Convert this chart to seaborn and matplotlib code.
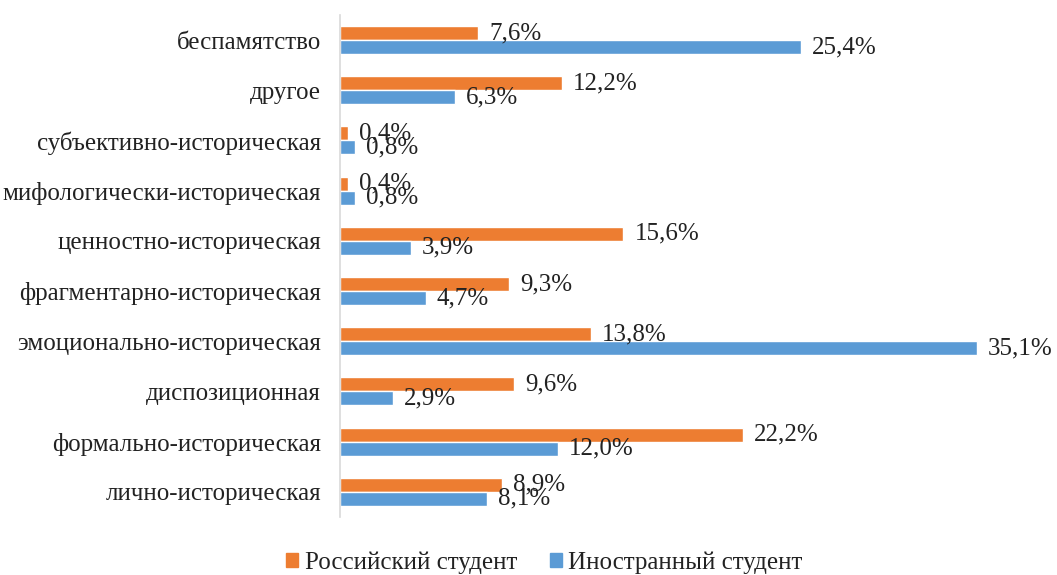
import numpy as np
import pandas as pd
import matplotlib
matplotlib.use("Agg")
import matplotlib.pyplot as plt
import seaborn as sns

# категории сверху вниз
категории = ["беспамятство", "другое", "субъективно-историческая",
             "мифологически-историческая", "ценностно-историческая",
             "фрагментарно-историческая", "эмоционально-историческая",
             "диспозиционная", "формально-историческая", "лично-историческая"]
российский = [7.6, 12.2, 0.4, 0.4, 15.6, 9.3, 13.8, 9.6, 22.2, 8.9]
иностранный = [25.4, 6.3, 0.8, 0.8, 3.9, 4.7, 35.1, 2.9, 12.0, 8.1]
группы = ["Российский студент", "Иностранный студент"]
цвета = ["#ED7D31", "#5B9BD5"]

df = pd.DataFrame({
    "категория": категории * 2,
    "значение": российский + иностранный,
    "группа": [группы[0]] * len(категории) + [группы[1]] * len(категории),
})

sns.set_theme(style="white")
plt.rcParams["font.family"] = ["Liberation Serif", "DejaVu Serif"]

fig = plt.figure(figsize=(10.57, 5.75), dpi=100)
ax = fig.add_axes([0.322, 0.101, 0.652, 0.873])

sns.barplot(data=df, x="значение", y="категория", hue="группа",
            order=категории, hue_order=группы, palette=цвета,
            orient="h", width=0.56, saturation=1, ax=ax, legend=False)

for cont in ax.containers:
    подписи = [f"{b.get_width():.1f}".replace(".", ",") + "%" for b in cont]
    ax.bar_label(cont, labels=подписи, padding=8, fontsize=18, color="#222222")

ax.set_xlim(0, 38)
ax.set_xlabel("")
ax.set_ylabel("")
ax.set_xticks([])
ax.tick_params(axis="y", labelsize=18, length=0, pad=14, colors="#222222")
for s in ["top", "right", "bottom"]:
    ax.spines[s].set_visible(False)
ax.spines["left"].set_color("#D9D9D9")
ax.spines["left"].set_linewidth(1.2)

ручки = [plt.Rectangle((0, 0), 1, 1, color=c) for c in цвета]
fig.legend(ручки, группы, loc="center", bbox_to_anchor=(0.515, 0.022),
           ncol=2, frameon=False, fontsize=18, handlelength=0.5,
           handleheight=0.5, handletextpad=0.25, columnspacing=1.3,
           labelcolor="#222222")

fig.savefig("out.png", dpi=100)
